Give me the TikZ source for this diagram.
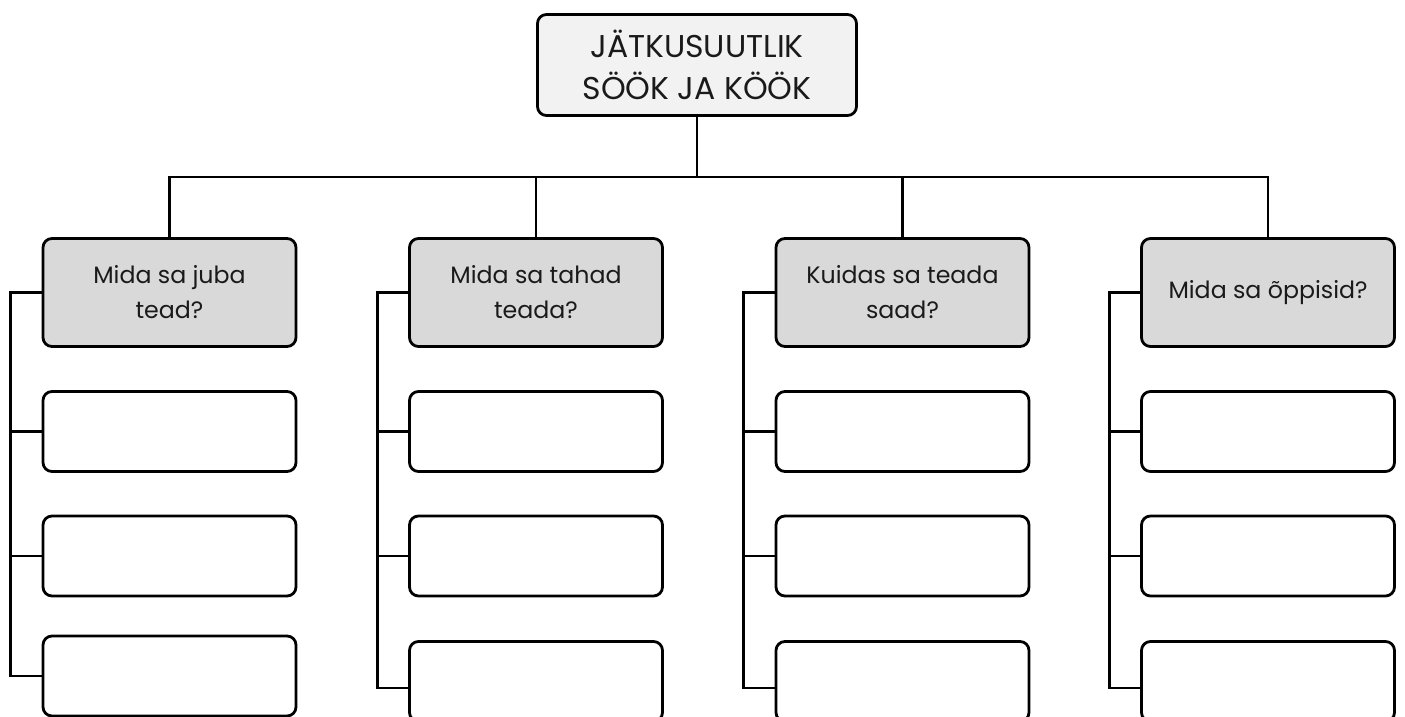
\documentclass[tikz,border=0pt]{standalone}
\usepackage{fontspec}
\setmainfont{Poppins}
\definecolor{titlegray}{HTML}{F2F2F2}
\definecolor{headgray}{HTML}{D9D9D9}
\definecolor{textdark}{HTML}{1A1A1A}
\begin{document}
\begin{tikzpicture}[x=1pt,y=-1pt,
  conn/.style={line width=2.8pt, draw=black},
  box/.style={draw=black, line width=2.8pt, rounded corners=9pt, minimum width=253pt, inner sep=0pt, text=textdark},
  titlebox/.style={box, fill=titlegray, minimum width=319pt, minimum height=101pt, font=\fontsize{31.5}{42}\selectfont, align=center},
  headbox/.style={box, fill=headgray, minimum height=108pt, font=\fontsize{23.7}{35}\selectfont, align=center},
  emptybox/.style={box, fill=white, minimum height=80pt},
]
\useasboundingbox (0,0) rectangle (1405,717);
\clip (0,0) rectangle (1405,717);
\fill[white] (0,0) rectangle (1405,717);

\node[titlebox] (title) at (697,65) {JÄTKUSUUTLIK\\SÖÖK JA KÖÖK};

\node[headbox] (h1) at (169.5,292.5) {Mida sa juba\\tead?};
\node[headbox] (h2) at (536,292.5) {Mida sa tahad\\teada?};
\node[headbox] (h3) at (902.5,292.5) {Kuidas sa teada\\saad?};
\node[headbox] (h4) at (1268,292.5) {Mida sa õppisid?};

\foreach \i/\x in {1/169.5,2/536,3/902.5,4/1268}{
  \node[emptybox] (e\i1) at (\x,431.5) {};
  \node[emptybox] (e\i2) at (\x,556) {};
}
\node[emptybox] (e13) at (169.5,676) {};
\node[emptybox] (e23) at (536,681.5) {};
\node[emptybox] (e33) at (902.5,681.5) {};
\node[emptybox] (e43) at (1268,681.5) {};

% bus from title
\coordinate (bus) at (697,177);
\draw[conn] (title.south) -- (bus);
\draw[conn] (h1.north) -- (h1.north |- bus) -- (h4.north |- bus) -- (h4.north);
\draw[conn] (h2.north) -- (h2.north |- bus);
\draw[conn] (h3.north) -- (h3.north |- bus);

% spines
\draw[conn] (h1.west) -- ++(-31,0) coordinate (s1) |- (e13.west);
\foreach \i in {2,3,4}{
  \draw[conn] (h\i.west) -- ++(-31,0) coordinate (s\i) |- ([yshift=-6.5pt]e\i3.west);
}
\foreach \i in {1,2,3,4}{
  \draw[conn] (s\i |- e\i1.west) -- (e\i1.west);
  \draw[conn] (s\i |- e\i2.west) -- (e\i2.west);
}
\end{tikzpicture}
\end{document}
